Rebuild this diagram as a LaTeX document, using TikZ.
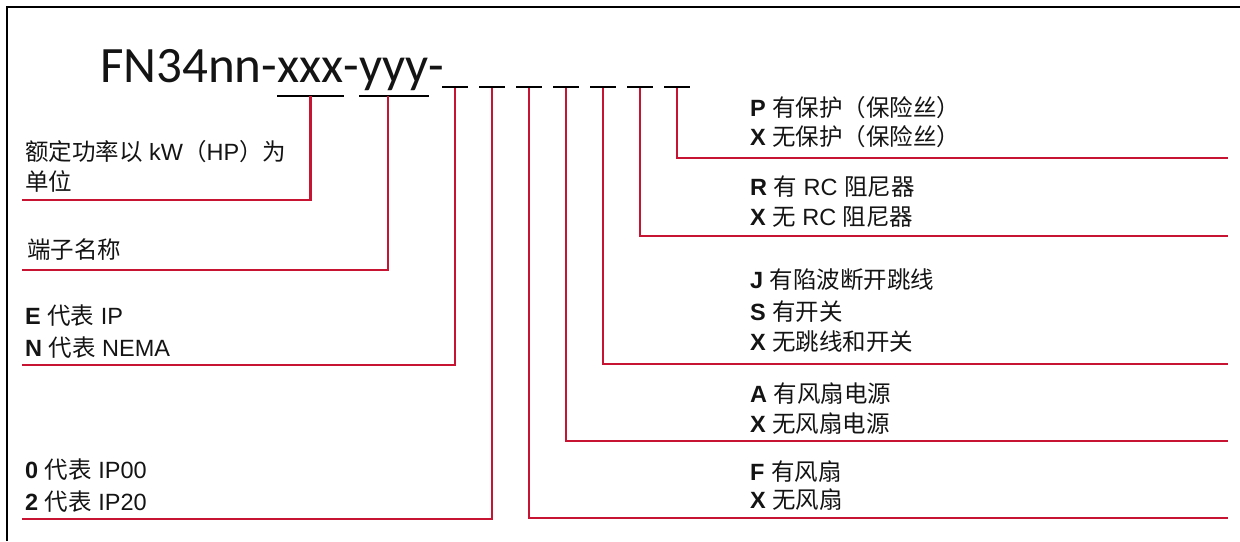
\documentclass[tikz,border=0pt]{standalone}
\usepackage{fontspec}
\setmainfont{Liberation Sans}
\newfontfamily\cjfont{Noto Sans CJK SC}
\newfontfamily\titlefont{Carlito}
\newcommand\zh[1]{{\cjfont #1}}
\definecolor{linered}{RGB}{198,20,50}
\definecolor{txtcol}{RGB}{20,20,20}
\begin{document}
\begin{tikzpicture}[x=1pt,y=-1pt,
  frame/.style={black,line width=1.2pt},
  redline/.style={linered,line width=2.6pt},
  titletxt/.style={font=\titlefont\fontsize{51}{60}\selectfont,anchor=base west,inner sep=0pt,outer sep=0pt,text=txtcol},
  uline/.style={black,line width=2.2pt},
  blank/.style={fill=black,minimum width=26pt,minimum height=2.8pt,inner sep=0pt,outer sep=0pt},
  txt/.style={font=\fontsize{23.5}{28}\selectfont,anchor=base west,inner sep=0pt,text=txtcol}]
\useasboundingbox (0,0) rectangle (1240,541);
% frame
\draw[frame] (7,541) -- (7,7) -- (1240,7);
% title
\node[titletxt] (t1) at (100,82) {FN34nn-};
\node[titletxt] (t2) at (t1.base east) {xxx};
\node[titletxt] (t3) at (t2.base east) {-};
\node[titletxt] (t4) at (t3.base east) {yyy};
\node[titletxt] (t5) at (t4.base east) {-};
\draw[uline] ([yshift=-14pt]t2.base west) -- ([yshift=-14pt]t2.base east);
\draw[uline] ([yshift=-14pt]t4.base west) -- ([yshift=-14pt]t4.base east);
\coordinate (u1) at ([yshift=-14pt]t2.base);
\coordinate (u2) at ([yshift=-14pt,xshift=-6pt]t4.base);
% blanks
\foreach \i/\xx in {1/455,2/492,3/529,4/566,5/603,6/640,7/677}
  \node[blank] (d\i) at (\xx,87) {};
% end coordinates
\coordinate (e1) at (22,200);
\coordinate (e2) at (22,270);
\coordinate (e3) at (22,365);
\coordinate (e4) at (22,519);
\coordinate (e5) at (1228,518);
\coordinate (e6) at (1228,441);
\coordinate (e7) at (1228,364);
\coordinate (e8) at (1228,236);
\coordinate (e9) at (1228,158);
% connectors
\draw[redline] (u1) |- (e1);
\draw[redline] (u2) |- (e2);
\draw[redline] (d1.south) |- (e3);
\draw[redline] (d2.south) |- (e4);
\draw[redline] (d3.south) |- (e5);
\draw[redline] (d4.south) |- (e6);
\draw[redline] (d5.south) |- (e7);
\draw[redline] (d6.south) |- (e8);
\draw[redline] (d7.south) |- (e9);
% left texts
\node[txt] (a1) at (25,160) {\zh{额定功率以} kW\zh{（}HP\zh{）为}};
\node[txt] (a2) at (25,190) {\zh{单位}};
\node[txt] (b1) at (27,258) {\zh{端子名称}};
\node[txt] (c1) at (25,324) {\textbf{E} \zh{代表} IP};
\node[txt] (c2) at (25,356) {\textbf{N} \zh{代表} NEMA};
\node[txt] (f1) at (25,478) {\textbf{0} \zh{代表} IP00};
\node[txt] (f2) at (25,510) {\textbf{2} \zh{代表} IP20};
% right texts
\node[txt] (p1) at (750,116) {\textbf{P} \zh{有保护（保险丝）}};
\node[txt] (p2) at (750,145) {\textbf{X} \zh{无保护（保险丝）}};
\node[txt] (r1) at (750,195) {\textbf{R} \zh{有} RC \zh{阻尼器}};
\node[txt] (r2) at (750,225) {\textbf{X} \zh{无} RC \zh{阻尼器}};
\node[txt] (j1) at (750,288) {\textbf{J} \zh{有陷波断开跳线}};
\node[txt] (j2) at (750,320) {\textbf{S} \zh{有开关}};
\node[txt] (j3) at (750,350) {\textbf{X} \zh{无跳线和开关}};
\node[txt] (m1) at (750,402) {\textbf{A} \zh{有风扇电源}};
\node[txt] (m2) at (750,432) {\textbf{X} \zh{无风扇电源}};
\node[txt] (n1) at (750,480) {\textbf{F} \zh{有风扇}};
\node[txt] (n2) at (750,508) {\textbf{X} \zh{无风扇}};
\end{tikzpicture}
\end{document}
